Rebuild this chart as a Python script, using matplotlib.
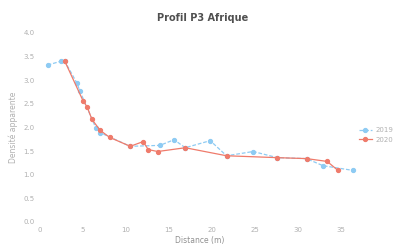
import matplotlib
matplotlib.use('Agg')
from matplotlib import pyplot as plt

# series
blue_x = [0.9, 2.4, 2.9, 4.3, 4.65, 6.5, 7.0, 10.5, 13.95, 15.6, 16.9, 19.8,
          21.7, 24.8, 27.6, 31.0, 32.9, 36.4]
blue_y = [3.32, 3.40, 3.40, 2.94, 2.77, 1.99, 1.89, 1.60, 1.62, 1.74, 1.57, 1.72,
          1.40, 1.49, 1.36, 1.34, 1.19, 1.09]
red_x = [2.9, 5.0, 5.5, 6.05, 7.0, 8.1, 10.5, 12.0, 12.6, 13.7, 16.9, 21.7,
         27.6, 31.0, 33.4, 34.65]
red_y = [3.40, 2.57, 2.43, 2.17, 1.94, 1.79, 1.60, 1.70, 1.53, 1.49, 1.57, 1.40,
         1.36, 1.34, 1.28, 1.09]
blue_label = '2019'
red_label = '2020'
x_ticks = [0, 5, 10, 15, 20, 25, 30, 35]
y_ticks = [0.0, 0.5, 1.0, 1.5, 2.0, 2.5, 3.0, 3.5, 4.0]

fig = plt.figure(figsize=(4.03, 2.46), dpi=100)
ax = fig.add_axes([0.099, 0.098, 0.794, 0.768])

ax.plot(blue_x, blue_y, color='#8ecbf3', linestyle=(0, (3, 1.5)), linewidth=0.9,
        marker='o', markersize=2.8, label=blue_label, zorder=2)
ax.plot(red_x, red_y, color='#ef7b6b', linewidth=0.9,
        marker='o', markersize=2.8, label=red_label, zorder=3)

ax.set_xlim(0, 37.2)
ax.set_ylim(0, 4.0)
ax.set_xticks(x_ticks)
ax.set_yticks(y_ticks)
ax.set_yticklabels(['%.1f' % v for v in y_ticks])
ax.tick_params(length=0, labelsize=5, labelcolor='#b0b0b0', pad=4)
for s in ax.spines.values():
    s.set_visible(False)

ax.set_xlabel('Distance (m)', fontsize=5.5, color='#909090', labelpad=2)
ax.set_ylabel('Densité apparente', fontsize=5.5, color='#b0b0b0', labelpad=4)
fig.text(0.503, 0.925, 'Profil P3 Afrique', ha='center', va='center',
         fontsize=7, color='#505050', fontweight='bold')

ax.legend(loc='center left', bbox_to_anchor=(0.985, 0.46), frameon=False,
          fontsize=5, labelcolor='#b0b0b0', handlelength=1.8,
          handletextpad=0.5, borderaxespad=0.2)

fig.savefig('out.png', dpi=100)
